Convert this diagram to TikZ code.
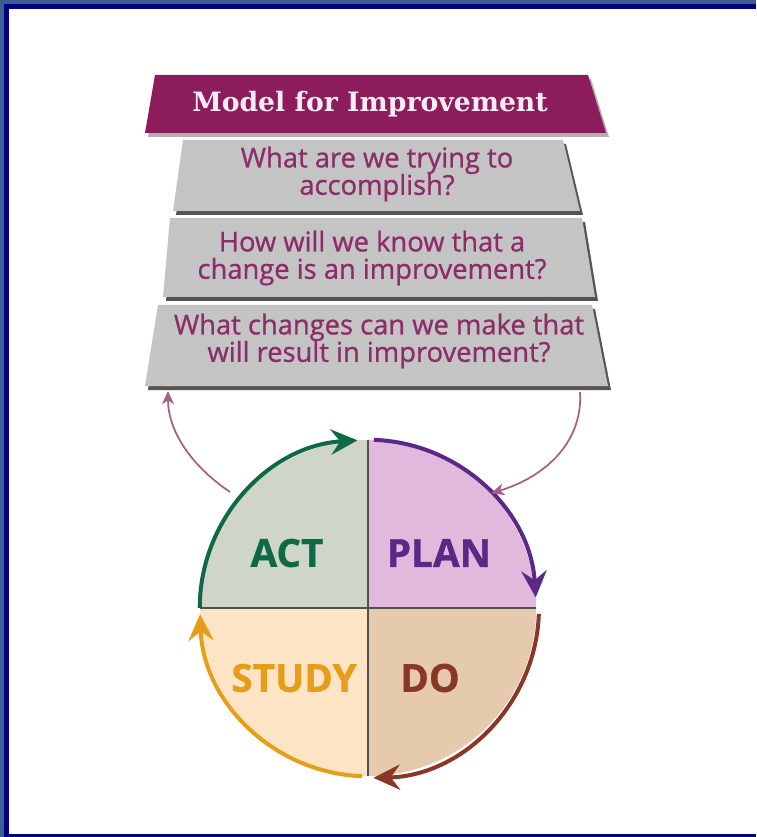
\documentclass[tikz,border=0pt]{standalone}
\usepackage{fontspec}
\setmainfont{Open Sans}
\newfontfamily\titlefont{DejaVu Serif}
\newfontfamily\questionfont[FakeBold=0.9]{Open Sans}
\newfontfamily\phasefont[FakeBold=0.8]{Open Sans Bold}
\usetikzlibrary{arrows.meta}

\definecolor{frameslate}{RGB}{60,96,142}
\definecolor{framenavy}{RGB}{0,0,128}
\definecolor{bannerplum}{RGB}{140,28,92}
\definecolor{titlepink}{RGB}{250,236,243}
\definecolor{boxgray}{RGB}{196,196,196}
\definecolor{shadowgray}{RGB}{85,85,85}
\definecolor{questionplum}{RGB}{140,45,105}
\definecolor{feedbackmauve}{RGB}{165,95,135}
\definecolor{actfill}{RGB}{207,214,201}
\definecolor{planfill}{RGB}{224,185,220}
\definecolor{dofill}{RGB}{230,202,174}
\definecolor{studyfill}{RGB}{253,228,196}
\definecolor{actgreen}{RGB}{15,105,70}
\definecolor{planpurple}{RGB}{92,40,135}
\definecolor{dobrown}{RGB}{138,55,40}
\definecolor{studyorange}{RGB}{230,158,25}
\definecolor{dividergray}{RGB}{80,80,80}

\tikzset{
	titletext/.style={inner sep=0.75pt, text=titlepink, font=\titlefont\bfseries\fontsize{20}{22}\selectfont},
	question/.style={inner sep=0.75pt, align=center, text=questionplum, font=\questionfont\fontsize{20.5}{20.5}\selectfont},
	phase/.style={inner sep=0.75pt, font=\phasefont\fontsize{29}{30}\selectfont},
	cyclearrow/.style={line width=3pt, -{Stealth[length=20pt, width=19pt, inset=7pt]}},
	feedback/.style={line width=1.3pt, feedbackmauve, -{Stealth[length=10pt, width=9pt, inset=3pt]}},
	divider/.style={line width=2.2pt, dividergray}
}

\begin{document}
\begin{tikzpicture}[x=0.75pt,y=0.75pt,yscale=-1]
	\useasboundingbox (0,0) rectangle (756,837);

	% Frame
	\fill[frameslate] (0,0) rectangle (756,837);
	\fill[framenavy] (4,4) rectangle (756,837);
	\fill[white] (9,9) rectangle (756,834);

	% Banner
	\fill[shadowgray, opacity=0.45] (158,79) -- (591,79) -- (609,137) -- (148,137) -- cycle;
	\fill[bannerplum] (155,75) -- (588,75) -- (606,133) -- (145,133) -- cycle;
	\node[titletext] (title) at (370,104) {Model for Improvement};

	% Question boxes
	\fill[shadowgray] (186,144) -- (566,144) -- (583,215) -- (176,215) -- cycle;
	\fill[boxgray] (183,140) -- (563,140) -- (580,211) -- (173,211) -- cycle;
	\node[question] (aim) at (377,174) {What are we trying to\\accomplish?};

	\fill[shadowgray] (173,222) -- (585,222) -- (598,301) -- (166,301) -- cycle;
	\fill[boxgray] (170,218) -- (582,218) -- (595,297) -- (163,297) -- cycle;
	\node[question] (measure) at (372,258) {How will we know that a\\change is an improvement?};

	\fill[shadowgray] (161,309) -- (595,309) -- (611,390) -- (148,390) -- cycle;
	\fill[boxgray] (158,305) -- (592,305) -- (608,386) -- (145,386) -- cycle;
	\node[question] (change) at (379,341) {What changes can we make that\\will result in improvement?};

	% Cycle
	\node[circle, minimum size=252pt, inner sep=0pt] (pdsa) at (368,608) {};
	\fill[actfill] (pdsa.center) -- (pdsa.180) arc[start angle=180, end angle=270, radius=168] -- cycle;
	\fill[planfill] (pdsa.center) -- (pdsa.90) arc[start angle=270, end angle=360, radius=168] -- cycle;
	\fill[dofill] (pdsa.center) -- (pdsa.0) arc[start angle=0, end angle=90, radius=168] -- cycle;
	\fill[studyfill] (pdsa.center) -- (pdsa.270) arc[start angle=90, end angle=180, radius=168] -- cycle;
	\draw[divider] (pdsa.90) -- (pdsa.270);
	\draw[divider] (pdsa.180) -- (pdsa.0);

	% Text Node
	\node[phase, text=actgreen] (act) at (287,553) {ACT};
	\node[phase, text=planpurple] (plan) at (439,553) {PLAN};
	\node[phase, text=studyorange] (study) at (294,678) {STUDY};
	\node[phase, text=dobrown] (do) at (430,678) {DO};

	% Connection
	\draw[cyclearrow, actgreen] (pdsa.180) arc[start angle=180, end angle=266.5, radius=168];
	\draw[cyclearrow, planpurple] (pdsa.88) arc[start angle=272, end angle=356.5, radius=168];
	\draw[cyclearrow, dobrown] ([xshift=2]pdsa.-2) arc[start angle=2, end angle=88.5, radius=170];
	\draw[cyclearrow, studyorange] (pdsa.-92) arc[start angle=92, end angle=178, radius=168];

	% Feedback
	\coordinate (actout) at (230,492);
	\coordinate (changeleft) at (168,391);
	\coordinate (changeright) at (580,392);
	\draw[feedback] (actout) .. controls (190,465) and (168,430) .. (changeleft);
	\draw[feedback] (changeright) .. controls (583,440) and (548,476) .. (pdsa.43);

\end{tikzpicture}
\end{document}
